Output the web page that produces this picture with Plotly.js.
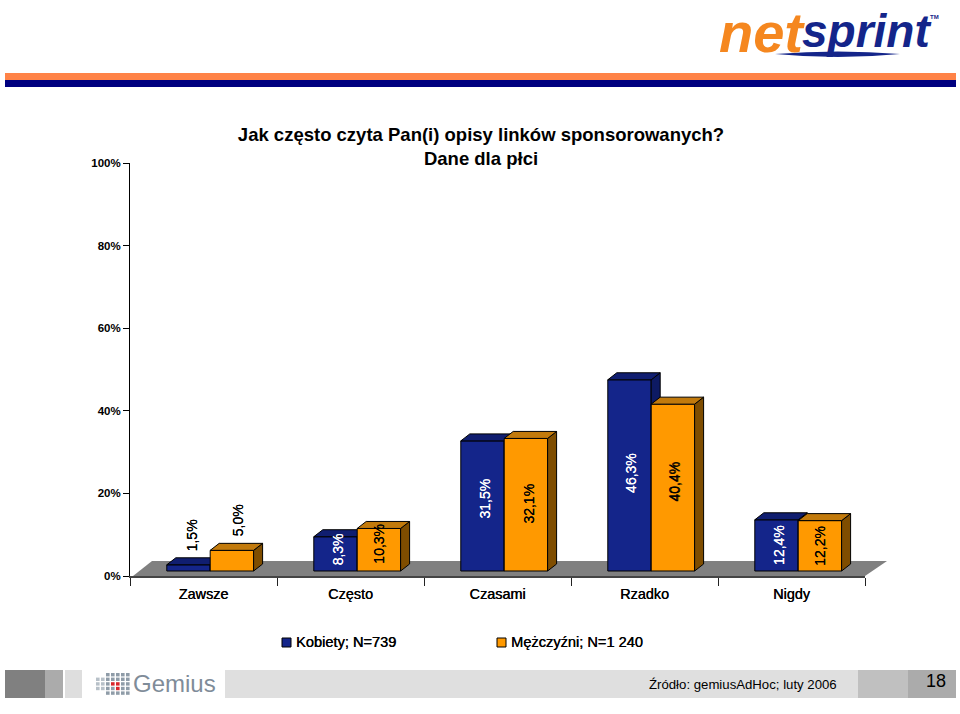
<!DOCTYPE html>
<html><head><meta charset="utf-8">
<script src="https://cdn.plot.ly/plotly-3.0.1.min.js"></script>
<style>html,body{margin:0;padding:0;background:#fff}#c{width:960px;height:714px}</style></head>
<body><div id="c"></div>
<script>
const categories = ['Zawsze','Często','Czasami','Rzadko','Nigdy'];
const kobiety = [1.5, 8.3, 31.5, 46.3, 12.4];
const mezczyzni = [5.0, 10.3, 32.1, 40.4, 12.2];
const kobietyLabels = ['1,5%','8,3%','31,5%','46,3%','12,4%'];
const mezczyzniLabels = ['5,0%','10,3%','32,1%','40,4%','12,2%'];
const yTickVals = [0,20,40,60,80,100];
const yTickText = ['0%','20%','40%','60%','80%','100%'];
const titleText = 'Jak często czyta Pan(i) opisy linków sponsorowanych?<br>Dane dla płci';
const legendK = 'Kobiety; N=739';
const legendM = 'Mężczyźni; N=1 240';
const sourceText = 'Źródło: gemiusAdHoc; luty 2006';
const pageNo = '18';

// layout geometry (pixels)
const W=960,H=714,L=130,R=865,T=163,B=576;
const pw=R-L, ph=B-T, unitX=pw/5, unitY=ph/100;
const px=x=>(x-L)/pw, py=y=>(B-y)/ph;
const shiftX=6.7, shiftY=5;             // bars stand a little behind the axis
const depthX=9/unitX, depthY=7/unitY;   // 3-D depth in data units
const barW=43.4/unitX;
const rx=[-0.5-shiftX/unitX,4.5-shiftX/unitX], ry=[-shiftY/unitY,100-shiftY/unitY];

function faces(vals,x0){
  const top={x:[],y:[]}, side={x:[],y:[]};
  vals.forEach((v,i)=>{
    const a=i+x0,b=a+barW;
    top.x.push(a,a+depthX,b+depthX,b,a,null); top.y.push(v,v+depthY,v+depthY,v,v,null);
    side.x.push(b,b+depthX,b+depthX,b,b,null); side.y.push(0,depthY,v+depthY,v,0,null);
  });
  return {top,side};
}
const poly=(p,fill,xa,ya)=>({type:'scatter',mode:'lines',x:p.x,y:p.y,fill:'toself',fillcolor:fill,
  line:{color:'#000',width:1},xaxis:xa,yaxis:ya,hoverinfo:'skip',showlegend:false});
const fK=faces(kobiety,-barW), fM=faces(mezczyzni,0);
const xs=categories.map((_,i)=>i);

const traces=[
  {type:'scatter',mode:'markers',x:categories,y:categories.map(()=>0),marker:{opacity:0},hoverinfo:'skip',showlegend:false},
  {type:'bar',name:legendK,x:xs,y:kobiety,width:barW,offset:-barW,marker:{color:'#14258a',line:{color:'#000',width:1}},xaxis:'x2',yaxis:'y2'},
  poly(fK.side,'#0d1a63','x2','y2'), poly(fK.top,'#101e70','x2','y2'),
  {type:'bar',name:legendM,x:xs,y:mezczyzni,width:barW,offset:0,marker:{color:'#ff9900',line:{color:'#000',width:1}},xaxis:'x3',yaxis:'y3'},
  poly(fM.side,'#7f4d00','x3','y3'), poly(fM.top,'#c27a0c','x3','y3')
];

const F='"Liberation Sans", Arial, sans-serif';
const thick=c=>'0.35px 0 0 '+c;
const shapes=[];
const rect=(x0,y0,x1,y1,c,line)=>shapes.push({type:'rect',xref:'paper',yref:'paper',x0:px(x0),x1:px(x1),y0:py(y0),y1:py(y1),
  fillcolor:c,line:line?{color:line,width:1}:{width:0},layer:'below'});
// floor
shapes.push({type:'path',xref:'paper',yref:'paper',layer:'below',fillcolor:'#808080',line:{width:0},
  path:`M ${px(133)} ${py(576)} L ${px(152)} ${py(561)} L ${px(887)} ${py(561)} L ${px(865)} ${py(576)} Z`});
// header stripes
rect(5,73,956,80,'#ff8347'); rect(5,80,956,87,'#00007f');
// footer blocks
rect(5,670,45,698,'#808080'); rect(45,670,63,698,'#ababab'); rect(65,670,82,698,'#dedede');
rect(225,670,858,698,'#dfdfdf'); rect(858,670,908,698,'#c0c0c0'); rect(908,670,956,698,'#ababab');
// legend swatches
rect(282,638,291,647,'#14258a','#000'); rect(497,638,506,647,'#ff9900','#000');
// netsprint swoosh
shapes.push({type:'path',xref:'paper',yref:'paper',fillcolor:'#14258a',line:{width:0},
  path:`M ${px(775)} ${py(54)} Q ${px(838)} ${py(49)} ${px(900)} ${py(54)} Q ${px(838)} ${py(60)} ${px(775)} ${py(54)} Z`});
// Gemius mark
for(let c=0;c<7;c++)for(let r=0;r<5;r++){
  if((c<2&&(r==0||r==4))) continue;
  const x=96+c*5,y=673+r*4.6;
  const red=(c==3||c==4)&&r==2||(c==4&&r==3);
  rect(x,y,x+3.6,y+3.4,red?'#d8262c':(c<2?'#b7c0c8':'#8f9ca8'));
}

const ann=[];
const note=(text,x,y,size,o)=>ann.push(Object.assign({text,xref:'paper',yref:'paper',x:px(x),y:py(y),showarrow:false,
  xanchor:'left',yanchor:'middle',font:{family:F,size,color:'#000'}},o||{}));
const lf={family:F,size:14.6,color:'#000',shadow:thick('#000')};
note(legendK,293.5,642,14.6,{font:lf});
note(legendM,508.5,642,14.6,{font:lf});
note(sourceText,647,684,13.2,{});
note(pageNo,936,681,18,{xanchor:'center'});
note('net',717,32,56,{font:{family:F,size:56,color:'#f5871f',weight:'bold',style:'italic'}});
note('sprint',800,31,46,{font:{family:F,size:46,color:'#14258a',weight:'bold',style:'italic'}});
note('TM',934,17,6,{xanchor:'center',font:{family:F,size:6,color:'#14258a',weight:'bold'}});
note('Gemius',131,683,24,{font:{family:F,size:24,color:'#7f8c99'}});

// data labels: small pixel nudges per label
const kShift=[[3,0],[2,4],[2,7],[2,2],[3,0]];
const mShift=[[6,0],[0,6],[3,1],[1,6],[0,0]];
function dataLabels(vals,texts,x0,xa,ya,shift,colour){
  vals.forEach((v,i)=>{
    const above=v<8;
    const col=above?'#000':colour;
    ann.push({text:texts[i],x:i+x0+barW/2,y:above?v:v/2,xref:xa,yref:ya,showarrow:false,textangle:-90,
      xshift:shift[i][0],yshift:above?(v<2?29:30):shift[i][1],
      font:{family:F,size:14,color:col,shadow:'0 0.3px 0 '+col}});
  });
}
dataLabels(kobiety,kobietyLabels,-barW,'x2','y2',kShift,'#fff');
dataLabels(mezczyzni,mezczyzniLabels,0,'x3','y3',mShift,'#000');

const hid=(o)=>Object.assign({visible:false,fixedrange:true},o);
const layout={
  width:W,height:H,paper_bgcolor:'#fff',plot_bgcolor:'rgba(0,0,0,0)',showlegend:false,
  margin:{l:L,r:W-R,t:T,b:H-B,pad:0},barmode:'overlay',
  font:{family:F,color:'#000'},
  title:{text:titleText,font:{family:F,size:18.5,weight:'bold',color:'#000'},x:481/W,xanchor:'center',y:1-141/H,yanchor:'top',automargin:false},
  xaxis:{type:'category',categoryorder:'array',categoryarray:categories,range:[-0.5,4.5],tickson:'boundaries',
    ticks:'outside',ticklen:8,tickcolor:'#222',tickwidth:1,showgrid:false,zeroline:false,ticklabelstandoff:4,
    showline:true,linecolor:'#444',linewidth:2,tickfont:{family:F,size:14.4,color:'#000',shadow:thick('#000')},fixedrange:true},
  yaxis:{range:[0,100],tickvals:yTickVals,ticktext:yTickText,ticks:'outside',ticklen:6,tickcolor:'#000',tickwidth:1,
    showgrid:false,zeroline:false,showline:true,linecolor:'#000',linewidth:1,
    tickfont:{family:F,size:11.5,color:'#000',weight:'bold'},fixedrange:true},
  xaxis2:hid({overlaying:'x',range:rx,type:'linear'}), yaxis2:hid({overlaying:'y',range:ry}),
  xaxis3:hid({overlaying:'x',range:rx,type:'linear'}), yaxis3:hid({overlaying:'y',range:ry}),
  shapes,annotations:ann
};
Plotly.newPlot('c',traces,layout,{displayModeBar:false,responsive:false});
</script></body></html>
